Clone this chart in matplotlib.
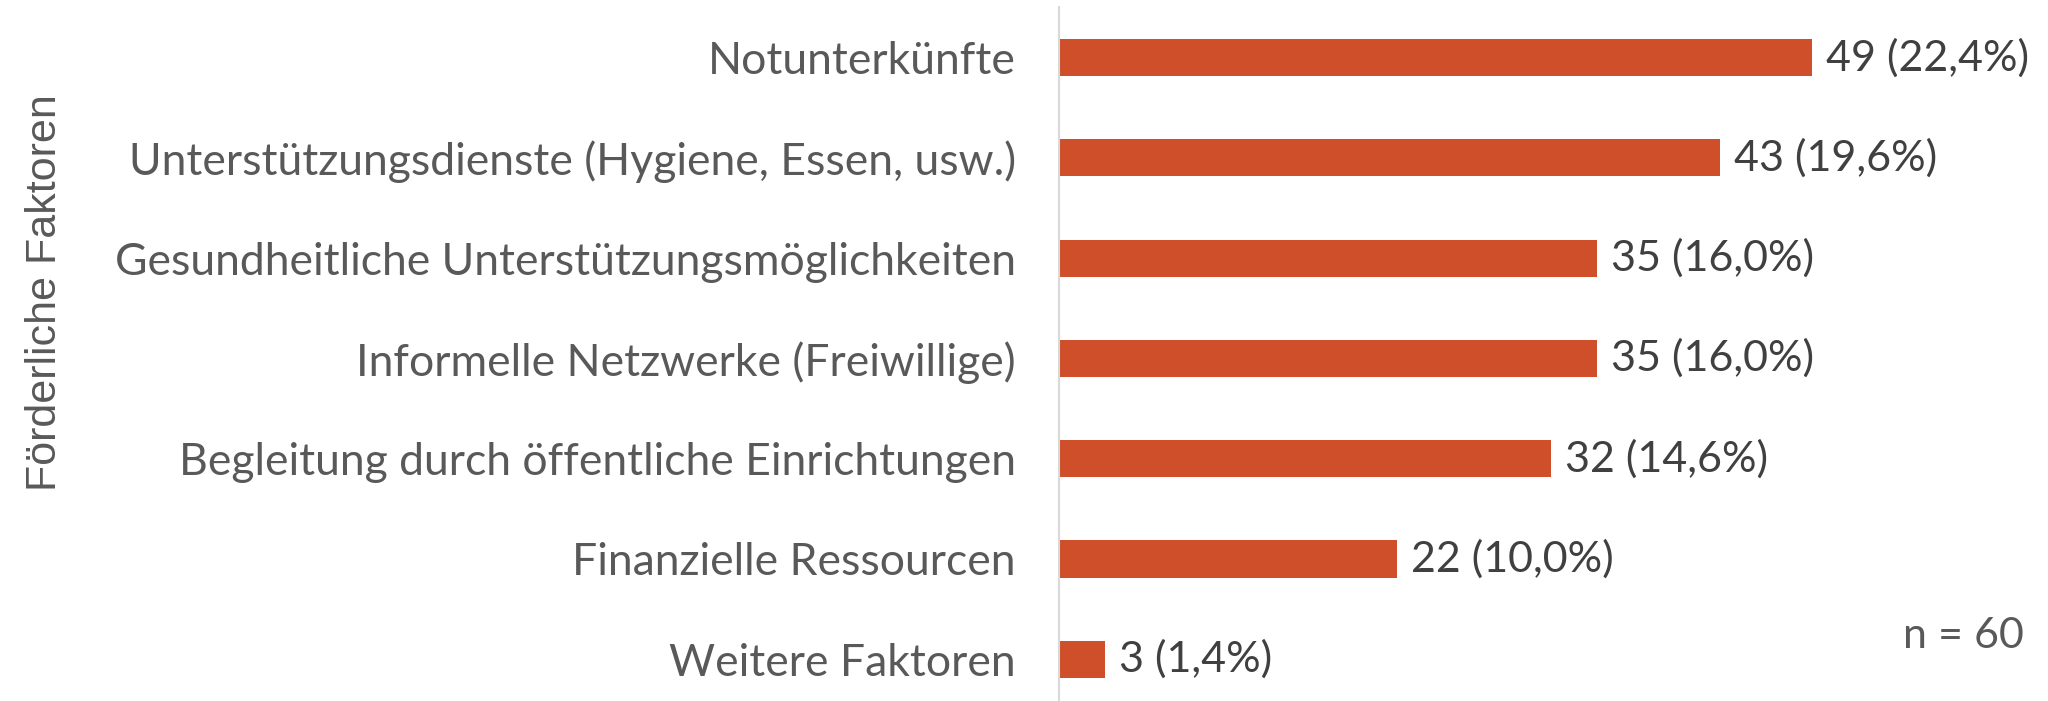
import matplotlib.pyplot as plt

# survey results: supportive factors
categories = [
    "Notunterkünfte",
    "Unterstützungsdienste (Hygiene, Essen, usw.)",
    "Gesundheitliche Unterstützungsmöglichkeiten",
    "Informelle Netzwerke (Freiwillige)",
    "Begleitung durch öffentliche Einrichtungen",
    "Finanzielle Ressourcen",
    "Weitere Faktoren",
]
counts = [49, 43, 35, 35, 32, 22, 3]
percents = [22.4, 19.6, 16.0, 16.0, 14.6, 10.0, 1.4]
n_total = 60

bar_color = "#CF4F2B"
label_color = "#595959"
value_color = "#404040"

fig = plt.figure(figsize=(20.48, 7.01), dpi=100)
ax = fig.add_axes([1059 / 2048, -0.012, (1981 - 1059) / 2048, 702 / 701])

y = list(range(len(categories)))
ax.barh(y, counts, height=0.37, color=bar_color, zorder=2)
ax.set_ylim(len(categories) - 0.5, -0.5)
ax.set_xlim(0, 60)

for yi, c, p in zip(y, counts, percents):
    txt = f"{c} ({p:.1f}%)".replace(".", ",")
    ax.text(c + 0.9, yi, txt, va="center", ha="left", fontsize=31,
            family="Lato", color=value_color)

ax.set_yticks(y)
ax.set_yticklabels(categories, fontsize=32, family="Lato", color=label_color)
ax.tick_params(axis="y", length=0, pad=31)
ax.set_xticks([])

for s in ["top", "right", "bottom"]:
    ax.spines[s].set_visible(False)
ax.spines["left"].set_color("#D9D9D9")
ax.spines["left"].set_linewidth(1.5)

fig.text(0.022, 0.583, "Förderliche Faktoren", rotation=90, va="center",
         ha="center", fontsize=31, family="Liberation Sans", color=label_color)
fig.text(2024 / 2048, 1 - 636 / 701, f"n = {n_total}", ha="right", va="center",
         fontsize=31, family="Lato", color=label_color)

fig.savefig("out.png", dpi=100, facecolor="white")
